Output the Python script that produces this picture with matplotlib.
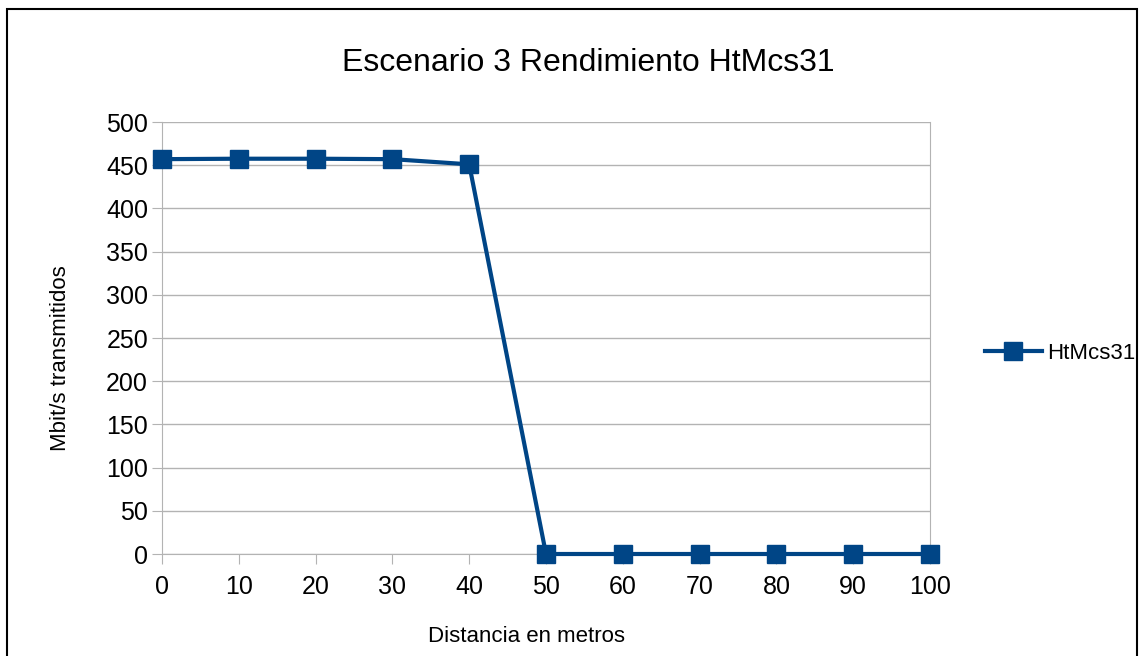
import matplotlib.pyplot as plt
from matplotlib.patches import Rectangle

distancia = [0, 10, 20, 30, 40, 50, 60, 70, 80, 90, 100]
mbits = [457, 457.5, 457.5, 457, 451, 0, 0, 0, 0, 0, 0]
serie = "HtMcs31"

plt.rcParams['font.family'] = ['Liberation Sans', 'DejaVu Sans']

fig = plt.figure(figsize=(11.46, 6.56), dpi=100)
ax = fig.add_axes([162/1146, 102/656, 768/1146, 432/656])

ax.plot(distancia, mbits, color='#004586', linewidth=3, marker='s',
        markersize=13.5, label=serie, clip_on=False, zorder=3)

ax.set_xlim(0, 100)
ax.set_ylim(0, 500)
ax.set_xticks(range(0, 101, 10))
ax.set_yticks(range(0, 501, 50))
ax.tick_params(labelsize=18, color='#b3b3b3', length=7)
ax.tick_params(axis='x', pad=8)
ax.tick_params(axis='y', pad=3)
ax.grid(True, axis='y', color='#b3b3b3', linewidth=1)
for s in ax.spines.values():
    s.set_color('#b3b3b3')
ax.spines['top'].set_visible(False)

fig.text(588/1146, 1 - 63/656, "Escenario 3 Rendimiento HtMcs31",
         fontsize=23, ha='center', va='center')
fig.text(60/1146, 1 - 358/656, "Mbit/s transmitidos", fontsize=16,
         rotation=90, ha='center', va='center')
fig.text(526/1146, 1 - 636/656, "Distancia en metros", fontsize=16,
         ha='center', va='center')

ax.legend(loc='center left', bbox_to_anchor=(1.045, 0.465), frameon=False,
          fontsize=16, handlelength=2.6, handletextpad=0.2)

# marco negro alrededor de la imagen
fig.patches.append(Rectangle((7/1146, -0.05), 1130/1146, 1.05 - 9/656,
                             transform=fig.transFigure, fill=False,
                             edgecolor='black', linewidth=1.5))

fig.savefig("out.png")
